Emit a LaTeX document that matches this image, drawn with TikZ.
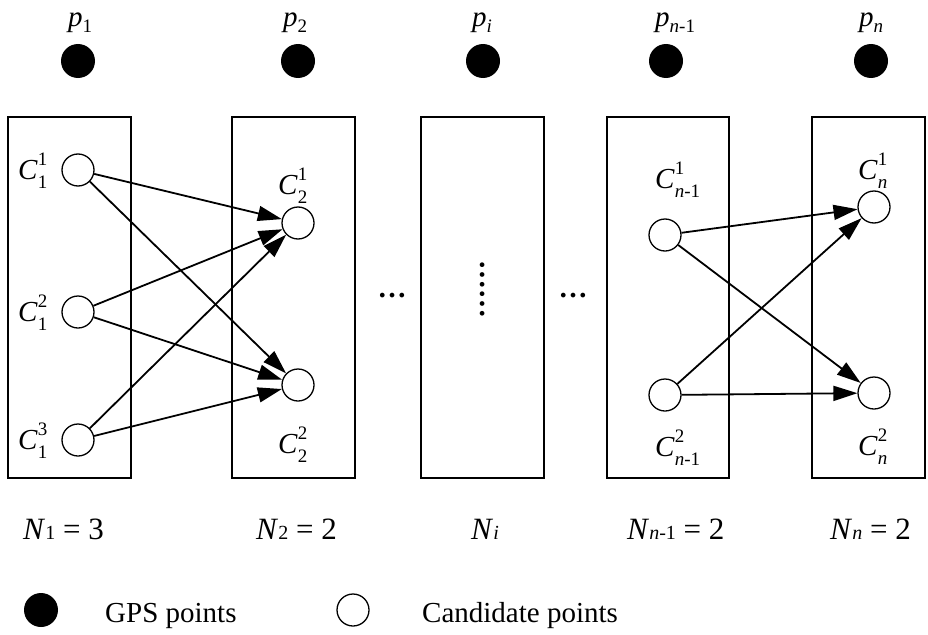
\documentclass[tikz,border=0pt]{standalone}
\usepackage{fontspec}
\setmainfont{Liberation Serif}
\usetikzlibrary{arrows.meta}

% symbol helpers: candidate C^{sup}_{sub}, GPS p_{sub}, count N_{sub}
\newcommand{\smallfs}{\fontsize{19}{19}\selectfont}
\newcommand{\Csym}[2]{\textit{C}\rlap{\raisebox{0.45em}{\smallfs #1}}\raisebox{-0.33em}{\smallfs #2}}
\newcommand{\psym}[1]{\textit{p}\raisebox{-0.2em}{\smallfs #1}}
\newcommand{\Nsym}[1]{\textit{N}{\fontsize{20}{20}\selectfont #1}}

\begin{document}
\begin{tikzpicture}[x=1pt,y=-1pt,
  box/.style={draw, line width=1.6pt},
  gps/.style={circle, fill=black, minimum size=34pt, inner sep=0pt},
  cand/.style={circle, draw, line width=1.3pt, fill=white, minimum size=32pt, inner sep=0pt},
  link/.style={line width=1.8pt, -{Triangle[length=24pt,width=15pt]}},
  txt/.style={font=\fontsize{29}{34}\selectfont, inner sep=0pt, anchor=base west},
  ntxt/.style={font=\fontsize{31}{36}\selectfont, inner sep=0pt, anchor=base west},
  dots/.style={font=\fontsize{29}{34}\selectfont\bfseries, inner sep=0pt, anchor=base}]
\useasboundingbox (0,0) rectangle (928,634);

% layer boxes
\draw[box] (8,117) rectangle (131,478);
\draw[box] (232,117) rectangle (355,478);
\draw[box] (421,117) rectangle (544,478);
\draw[box] (607,117) rectangle (729,478);
\draw[box] (812,117) rectangle (925,478);

% GPS points and their labels
\node[gps] (p1) at (78,61) {};
\node[gps] (p2) at (298,61) {};
\node[gps] (pi) at (483,61) {};
\node[gps] (pm) at (666,61) {};
\node[gps] (pn) at (871,61) {};
\node[txt] (lp1) at (68,27) {\psym{1}};
\node[txt] (lp2) at (283,27) {\psym{2}};
\node[txt] (lpi) at (472,27) {\psym{\textit{i}}};
\node[txt] (lpm) at (655,27) {\psym{\textit{n}-1}};
\node[txt] (lpn) at (859,27) {\psym{\textit{n}}};

% candidate points
\node[cand] (a1) at (78,170) {};
\node[cand] (a2) at (78,312) {};
\node[cand] (a3) at (78,440) {};
\node[cand] (b1) at (298,223) {};
\node[cand] (b2) at (298,385) {};
\node[cand] (m1) at (665,235) {};
\node[cand] (m2) at (665,395) {};
\node[cand] (n1) at (874,207) {};
\node[cand] (n2) at (874,393) {};

\node[txt] (la1) at (18,179) {\Csym{1}{1}};
\node[txt] (la2) at (18,321) {\Csym{2}{1}};
\node[txt] (la3) at (18,449) {\Csym{3}{1}};
\node[txt] (lb1) at (278,194) {\Csym{1}{2}};
\node[txt] (lb2) at (278,453) {\Csym{2}{2}};
\node[txt] (lm1) at (655,188) {\Csym{1}{\textit{n}-1}};
\node[txt] (lm2) at (655,456) {\Csym{2}{\textit{n}-1}};
\node[txt] (ln1) at (858,179) {\Csym{1}{\textit{n}}};
\node[txt] (ln2) at (858,455) {\Csym{2}{\textit{n}}};

% transitions between consecutive layers
\draw[link] (a1) -- (b1);
\draw[link] (a1) -- (b2);
\draw[link] (a2) -- (b1);
\draw[link] (a2) -- (b2);
\draw[link] (a3) -- (b1);
\draw[link] (a3) -- (b2);
\draw[link] (m1) -- (n1);
\draw[link] (m1) -- (n2);
\draw[link] (m2) -- (n1);
\draw[link] (m2) -- (n2);

% omitted layers
\node[dots] (gapl) at (392,297) {…};
\node[dots] (gapr) at (573,297) {…};
\node[dots, rotate=90] (gapv) at (484,289) {……};

% candidate counts
\node[ntxt] (c1) at (23,539) {\Nsym{1} = 3};
\node[ntxt] (c2) at (256,539) {\Nsym{2} = 2};
\node[ntxt] (ci) at (471,539) {\Nsym{\textit{i}}};
\node[ntxt] (cm) at (627,539) {\Nsym{\textit{n}-1} = 2};
\node[ntxt] (cn) at (830,539) {\Nsym{\textit{n}} = 2};

% legend
\node[gps] (kg) at (41,610) {};
\node[txt] (kgt) at (105,622) {GPS points};
\node[cand] (kc) at (353,610) {};
\node[txt] (kct) at (422,622) {Candidate points};
\end{tikzpicture}
\end{document}
